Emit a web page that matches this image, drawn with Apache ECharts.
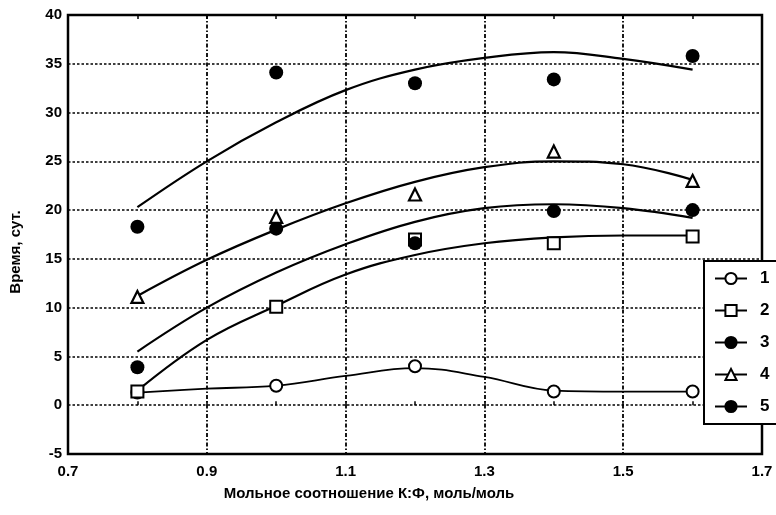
<!DOCTYPE html>
<html>
<head>
<meta charset="utf-8">
<script src="https://cdn.jsdelivr.net/npm/echarts@6/dist/echarts.min.js"></script>
<style>html,body{margin:0;padding:0;background:#fff}#c{width:776px;height:515px}</style>
</head>
<body>
<div id="c"></div>
<script>
// Measured points
const xPts = [0.8, 1.0, 1.2, 1.4, 1.6];
const s1 = [1.3, 2.0, 4.0, 1.4, 1.4];
const s2 = [1.4, 10.1, 17.0, 16.6, 17.3];
const s3 = [3.9, 18.1, 16.6, 19.9, 20.0];
const s4 = [11.1, 19.3, 21.6, 26.0, 23.0];
const s5 = [18.3, 34.1, 33.0, 33.4, 35.8];
// Curves
const xCurve = [0.8, 0.9, 1.0, 1.1, 1.2, 1.3, 1.4, 1.5, 1.6];
const c1 = [1.3, 1.7, 2.0, 3.0, 3.8, 2.9, 1.5, 1.4, 1.4];
const c2 = [1.5, 6.7, 10.2, 13.4, 15.4, 16.6, 17.2, 17.4, 17.4];
const c3 = [5.5, 10.0, 13.6, 16.5, 18.8, 20.2, 20.6, 20.2, 19.2];
const c4 = [11.2, 14.9, 18.0, 20.7, 22.9, 24.4, 25.0, 24.7, 23.1];
const c5 = [20.3, 25.0, 29.0, 32.3, 34.4, 35.6, 36.2, 35.5, 34.4];
const names = ['1', '2', '3', '4', '5'];
const xTicks = ['0.7', '0.9', '1.1', '1.3', '1.5', '1.7'];

const pts = (ys) => xPts.map((x, i) => [x, ys[i]]);
const crv = (ys) => xCurve.map((x, i) => [x, ys[i]]);

const FONT = 'Liberation Sans';
const markers = [
  {symbol: 'circle', size: 12, fill: '#fff', bw: 2},
  {symbol: 'rect', size: 12, fill: '#fff', bw: 2},
  {symbol: 'circle', size: 14, fill: '#000', bw: 0},
  {symbol: 'triangle', size: 12, fill: '#fff', bw: 2.2},
  {symbol: 'circle', size: 14, fill: '#000', bw: 0}
];
const ptData = [s1, s2, s3, s4, s5];
const crvData = [c1, c2, c3, c4, c5];

const series = [];
names.forEach((n, i) => {
  const m = markers[i];
  series.push({
    name: n, type: 'line', smooth: 0.4, data: crv(crvData[i]),
    symbol: m.symbol, symbolSize: m.size, showSymbol: false,
    lineStyle: {color: '#000', width: i === 0 ? 1.8 : 2.2},
    itemStyle: {color: m.fill, borderColor: '#000', borderWidth: m.bw || 1},
    z: 2, silent: true
  });
  series.push({
    name: n, type: 'scatter', data: pts(ptData[i]),
    symbol: m.symbol, symbolSize: m.size,
    itemStyle: {color: m.fill, borderColor: '#000', borderWidth: m.bw, opacity: 1},
    z: 3
  });
});

const chart = echarts.init(document.getElementById('c'), null, {renderer: 'canvas'});
const axisFont = {fontFamily: FONT, fontWeight: 'bold', fontSize: 15, color: '#000'};
chart.setOption({
  backgroundColor: '#fff',
  animation: false,
  grid: {left: 68, right: 14, top: 15, bottom: 61, show: true, borderColor: '#000', borderWidth: 2.5, backgroundColor: 'transparent'},
  legend: {
    data: names, orient: 'vertical', left: 704, top: 261,
    itemWidth: 32, itemHeight: 14, itemGap: 15,
    padding: [9, 40, 9, 10],
    backgroundColor: '#fff', borderColor: '#000', borderWidth: 2, borderRadius: 0,
    textStyle: {fontFamily: FONT, fontWeight: 'bold', fontSize: 17, color: '#000', padding: [0, 0, 0, 8]},
    selectedMode: false
  },
  xAxis: [{
    type: 'value', min: 0.7, max: 1.7, interval: 0.2,
    axisLine: {show: false},
    axisTick: {show: true, inside: true, length: 4, lineStyle: {color: '#000', width: 1.5}},
    minorTick: {show: true, splitNumber: 2, length: 4, lineStyle: {color: '#000', width: 1.5}},
    axisLabel: Object.assign({margin: 10, formatter: (v) => { const i = Math.round((v - 0.7) / 0.2); return xTicks[i] !== undefined ? xTicks[i] : ''; }}, axisFont),
    splitLine: {show: true, lineStyle: {color: '#000', width: 1.8, type: [4, 2, 1.5, 2]}},
    name: 'Мольное соотношение К:Ф, моль/моль', nameLocation: 'middle', nameGap: 32,
    nameTextStyle: {fontFamily: FONT, fontWeight: 'bold', fontSize: 15, color: '#000', padding: [0, 92, 0, 0]}
  }, {
    type: 'value', min: 0.7, max: 1.7, interval: 0.2, position: 'top',
    axisLine: {show: false},
    axisTick: {show: true, inside: true, length: 4, lineStyle: {color: '#000', width: 1.5}},
    minorTick: {show: true, splitNumber: 2, length: 4, lineStyle: {color: '#000', width: 1.5}},
    axisLabel: {show: false}, splitLine: {show: false}
  }],
  yAxis: {
    type: 'value', min: -5, max: 40, interval: 5,
    axisLine: {show: false}, axisTick: {show: false},
    axisLabel: Object.assign({margin: 6}, axisFont),
    splitLine: {show: true, lineStyle: {color: '#000', width: 1.6, type: [2.5, 2]}},
    name: 'Время, сут.', nameLocation: 'middle', nameGap: 45,
    nameTextStyle: {fontFamily: FONT, fontWeight: 'bold', fontSize: 15, color: '#000', padding: [0, 35, 0, 0]}
  },
  series: series
});
</script>
</body>
</html>
